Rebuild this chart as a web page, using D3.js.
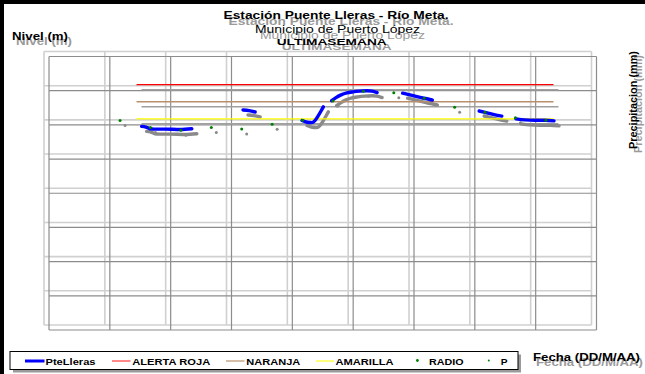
<!DOCTYPE html>
<html><head><meta charset="utf-8">
<script src="https://cdn.jsdelivr.net/npm/d3@7"></script>
<style>html,body{margin:0;padding:0;background:#fff;}svg{display:block;font-family:"Liberation Sans",Arial,sans-serif;}</style>
</head><body>
<script>
// ---- data ----
const dayTicks = [0,24,48,72,96,120,144,168,192,216];       // hours (grid columns, one per day)
const levelTicks = [0,1,2,3,4,5,6,7,8];                      // m (grid rows)
const levelHours = [38.5,40.2,41.8,43.4,47.7,53.7,58.3, 60,
  78.5,80.9,83.3, 85,
  101.8,103.8,105.6,106.9,108.1,109.3,110.2, 111,
  113.5,115.2,117.2,119.5,121.9,124.6,127.4,129.4,131.4, 133,
  141.5,144.4,147.2,149.4,151.5,153.2, 160,
  171.7,174,176.8,180.6, 183,
  186.2,189.8,193.7,197.7,201.2];
const levelValues = [5.81,5.79,5.74,5.73,5.73,5.72,5.74, null,
  6.29,6.27,6.23, null,
  5.98,5.93,5.92,5.98,6.11,6.26,6.38, null,
  6.56,6.65,6.73,6.79,6.82,6.84,6.85,6.84,6.80, null,
  6.78,6.73,6.68,6.64,6.61,6.58, null,
  6.26,6.22,6.17,6.11, null,
  6.03,6.00,5.99,5.99,5.97];
const radioHours = [30,42,54,66,78,90,102,114,126,138,150,162,174,186,198];
const radioValues = [5.98,5.78,5.70,5.78,5.73,5.87,5.99,6.55,6.84,6.79,6.63,6.37,6.22,6.06,5.99];
const precipHours = [];
const precipValues = [];
const thresholdNames = ["ALERTA ROJA","NARANJA","AMARILLA"];
const thresholdValues = [7.03,6.53,6.03];
const thresholdColors = ["#ff0000","#b8906c","#ffff00"];
const thresholdSpan = [36.5,201];
const legendNames = ["PteLleras","ALERTA ROJA","NARANJA","AMARILLA","RADIO","P"];

// ---- chart ----
const W=645,H=374;
const svg=d3.select("body").append("svg").attr("width",W).attr("height",H);
svg.append("rect").attr("width",W).attr("height",H).attr("fill","#fff");

const x=d3.scaleLinear().domain([0,216]).range([44,591.5]);
const y=d3.scaleLinear().domain([0,8]).range([325,51.5]);
const SH=[5,5];
const shadowCol="#8a8a8a";

function grid(g,col,w){
  g.selectAll("line.v").data(dayTicks).join("line").attr("class","v")
    .attr("x1",d=>x(d)).attr("x2",d=>x(d)).attr("y1",y(8)).attr("y2",y(0))
    .attr("stroke",col).attr("stroke-width",w);
  g.selectAll("line.h").data(levelTicks).join("line").attr("class","h")
    .attr("y1",d=>y(d)).attr("y2",d=>y(d)).attr("x1",x(0)).attr("x2",x(216))
    .attr("stroke",col).attr("stroke-width",w);
}
const line=d3.line().defined((d,i)=>levelValues[i]!==null).x((d,i)=>x(levelHours[i])).y((d,i)=>y(levelValues[i])).curve(d3.curveMonotoneX);

// main (light) grid
const gMain=svg.append("g");
grid(gMain,"#d0d0d0",1.6);
// shadow layer
const gSh=svg.append("g").attr("transform",`translate(${SH[0]},${SH[1]})`);
grid(gSh,"#8c8c8c",1.2);
gSh.selectAll("line.t").data(thresholdValues).join("line")
  .attr("x1",x(thresholdSpan[0])).attr("x2",x(thresholdSpan[1]))
  .attr("y1",d=>y(d)).attr("y2",d=>y(d)).attr("stroke","#a0a0a0").attr("stroke-width",1.5);
gSh.append("path").attr("d",line(levelHours)).attr("fill","none").attr("stroke",shadowCol).attr("stroke-width",3.4).attr("stroke-linecap","round");
gSh.selectAll("circle").data(radioHours).join("circle").attr("cx",d=>x(d)).attr("cy",(d,i)=>y(radioValues[i])).attr("r",1.5).attr("fill",shadowCol);

// main series
const gS=svg.append("g");
gS.selectAll("line.t").data(thresholdValues).join("line")
  .attr("x1",x(thresholdSpan[0])).attr("x2",x(thresholdSpan[1]))
  .attr("y1",d=>y(d)).attr("y2",d=>y(d)).attr("stroke",(d,i)=>thresholdColors[i]).attr("stroke-width",1.4);
gS.append("path").attr("d",line(levelHours)).attr("fill","none").attr("stroke","#0000ff").attr("stroke-width",3.4).attr("stroke-linecap","round");
gS.selectAll("circle.r").data(radioHours).join("circle").attr("cx",d=>x(d)).attr("cy",(d,i)=>y(radioValues[i])).attr("r",1.5).attr("fill","#008000");
gS.selectAll("circle.p").data(precipHours).join("circle").attr("cx",d=>x(d)).attr("cy",(d,i)=>y(precipValues[i])).attr("r",1).attr("fill","#008000");

// texts with shadow
function stext(t,xp,yp,o){
  const g=svg.append("g");
  const mk=(dx,dy,fill)=>{
    const e=g.append("text").attr("x",xp+dx).attr("y",yp+dy).text(t)
      .attr("font-size",o.size).attr("font-weight",o.bold?"bold":"normal")
      .attr("text-anchor",o.anchor||"start").attr("fill",fill);
    if(o.len) e.attr("textLength",o.len).attr("lengthAdjust","spacingAndGlyphs");
    if(o.rot) e.attr("transform",`rotate(-90,${xp+dx},${yp+dy})`);
  };
  mk(o.sdx,o.sdy,"#9a9a9a");
  mk(0,0,"#000");
}
stext("Estación Puente Lleras - Río Meta.",336,19.3,{size:11,bold:true,anchor:"middle",len:225,sdx:5,sdy:6});
stext("Municipio de Puerto López",337.5,33.3,{size:10.5,anchor:"middle",len:165,sdx:5,sdy:6});
stext("ULTIMASEMANA",331.7,45,{size:9.5,bold:true,anchor:"middle",len:110,sdx:5,sdy:5});
stext("Nivel (m)",12,40,{size:10,bold:true,len:56,sdx:4,sdy:5});
stext("Fecha (DD/M/AA)",533,361,{size:10,bold:true,len:107,sdx:3,sdy:5});
stext("Precipitacion (mm)",636.5,149,{size:10.5,bold:true,rot:true,len:98,sdx:5,sdy:4});

// legend
const lg=svg.append("g");
lg.append("rect").attr("x",13).attr("y",354.5).attr("width",508).attr("height",18).attr("fill","#9a9a9a");
lg.append("rect").attr("x",10).attr("y",351.5).attr("width",508).attr("height",18).attr("fill","#fff").attr("stroke","#000").attr("stroke-width",1);
const items=[
  {type:"line",c:"#0000ff",w:3,x0:25,x1:44.5,tx:45.5,len:50},
  {type:"line",c:"#ff6060",w:1.5,x0:112,x1:130.5,tx:132.2,len:78},
  {type:"line",c:"#c8a888",w:1.5,x0:226,x1:244.5,tx:246.3,len:54},
  {type:"line",c:"#ffff50",w:1.5,x0:316,x1:334,tx:335.5,len:58},
  {type:"dot",c:"#008000",r:1.4,x0:417.4,tx:429,len:34.5},
  {type:"dot",c:"#008000",r:1,x0:488.8,tx:500.8,len:6.8}
];
items.forEach((it,i)=>{
  if(it.type==="line") lg.append("line").attr("x1",it.x0).attr("x2",it.x1).attr("y1",361).attr("y2",361).attr("stroke",it.c).attr("stroke-width",it.w);
  else lg.append("circle").attr("cx",it.x0).attr("cy",360.5).attr("r",it.r).attr("fill",it.c);
  lg.append("text").attr("x",it.tx).attr("y",364.5).text(legendNames[i]).attr("font-size",9).attr("font-weight","bold").attr("fill","#000")
    .attr("textLength",it.len).attr("lengthAdjust","spacingAndGlyphs");
});

// outer black frame (top & left)
svg.append("rect").attr("x",0).attr("y",0).attr("width",W).attr("height",4).attr("fill","#000");
svg.append("rect").attr("x",0).attr("y",0).attr("width",4).attr("height",H).attr("fill","#000");
</script>
</body></html>
